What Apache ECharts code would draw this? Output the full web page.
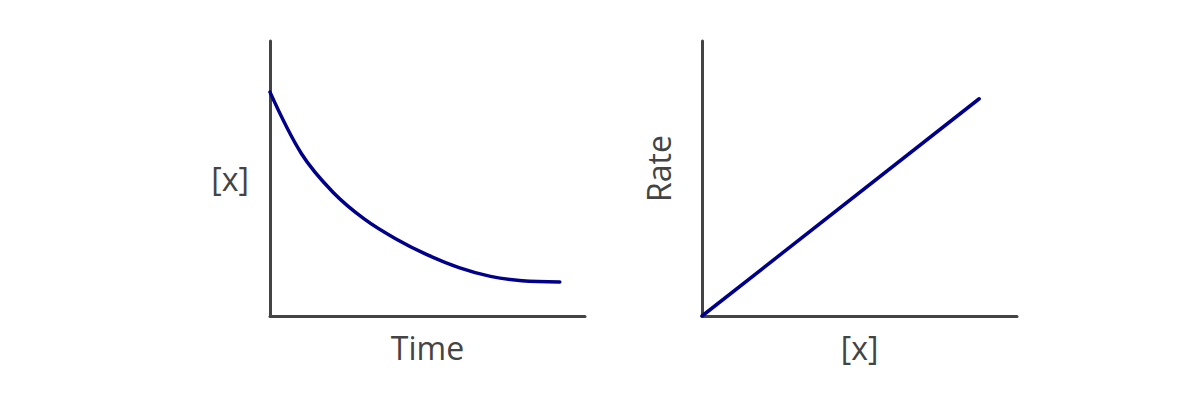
<!DOCTYPE html>
<html>
<head>
<meta charset="utf-8">
<script src="https://cdn.jsdelivr.net/npm/echarts@6/dist/echarts.min.js"></script>
<style>
  html, body { margin: 0; padding: 0; background: #fff; }
  #chart { width: 1200px; height: 400px; }
</style>
</head>
<body>
<div id="chart"></div>
<script>
(function() {
  // left panel: concentration falling over time
  var decayTime = [0, 1, 2, 3, 4, 5, 6, 7, 8, 9.2];
  var decayConc = [8.14, 5.90, 4.50, 3.52, 2.80, 2.22, 1.76, 1.44, 1.28, 1.24];

  // right panel: rate rising linearly with concentration
  var rateConc = [0, 8.8];
  var rateValue = [0, 7.9];

  var ink = '#444';
  var lineColor = '#00008b';
  var font = '"Open Sans", "Noto Sans", sans-serif';

  function pairs(xs, ys) {
    return xs.map(function(x, i) { return [x, ys[i]]; });
  }

  function axisBase(gridIndex, name) {
    return {
      type: 'value',
      gridIndex: gridIndex,
      min: 0,
      max: 10,
      name: name,
      nameLocation: 'middle',
      nameTextStyle: { color: ink, fontSize: 32, fontFamily: font },
      axisLine: { show: true, lineStyle: { color: ink, width: 3 } },
      axisTick: { show: false },
      axisLabel: { show: false },
      splitLine: { show: false }
    };
  }

  var xLeft = axisBase(0, 'Time');
  xLeft.nameGap = 15;
  var xRight = axisBase(1, '[x]');
  xRight.nameGap = 15;

  var yLeft = axisBase(0, '[x]');
  yLeft.nameRotate = 0;
  yLeft.nameGap = 21;
  var yRight = axisBase(1, 'Rate');
  yRight.nameGap = 28;
  yRight.nameTextStyle.padding = [0, 0, 0, 20];

  var chart = echarts.init(document.getElementById('chart'), null, { renderer: 'svg' });
  chart.setOption({
    animation: false,
    grid: [
      { left: 270, right: 615, top: 41, bottom: 84 },
      { left: 702, right: 183, top: 41, bottom: 84 }
    ],
    xAxis: [xLeft, xRight],
    yAxis: [yLeft, yRight],
    series: [
      {
        type: 'line',
        xAxisIndex: 0,
        yAxisIndex: 0,
        data: pairs(decayTime, decayConc),
        smooth: 0.35,
        showSymbol: false,
        lineStyle: { color: lineColor, width: 3.5, cap: 'round' }
      },
      {
        type: 'line',
        xAxisIndex: 1,
        yAxisIndex: 1,
        data: pairs(rateConc, rateValue),
        showSymbol: false,
        lineStyle: { color: lineColor, width: 3.5, cap: 'round' }
      }
    ]
  });
})();
</script>
</body>
</html>
